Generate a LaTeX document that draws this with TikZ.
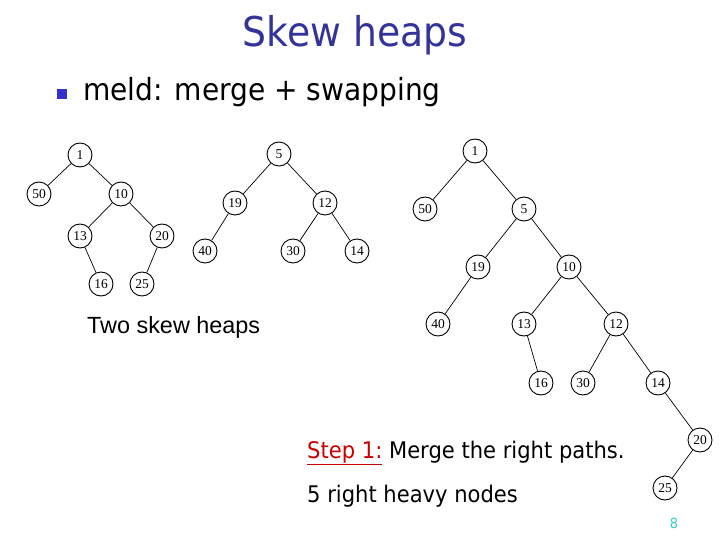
\documentclass[tikz,border=0pt]{standalone}
\usepackage{fontspec}
\setmainfont{Liberation Serif}
\newfontfamily\tah[FakeStretch=0.92]{DejaVu Sans}
\newfontfamily\ari{Liberation Sans}
\definecolor{titleblue}{RGB}{51,51,153}
\definecolor{bulletblue}{RGB}{51,51,204}
\definecolor{stepred}{RGB}{204,0,0}
\definecolor{pageteal}{RGB}{51,204,204}
\begin{document}
\begin{tikzpicture}[x=1pt,y=-1pt,
  hn/.style={circle,draw,line width=0.9pt,minimum size=24pt,inner sep=0pt,font=\fontsize{13.5}{13.5}\selectfont},
  ed/.style={line width=0.7pt},
  txt/.style={anchor=base west,inner sep=0pt}]
\useasboundingbox[fill=white] (0,0) rectangle (720,540);
% title and bullet
\node[anchor=base,inner sep=0pt,text=titleblue,font=\tah\fontsize{41}{41}\selectfont] (title) at (355,47) {Skew heaps};
\node[fill=bulletblue,minimum size=10pt,inner sep=0pt] (bul) at (62,94) {};
\node[txt,font=\tah\fontsize{30.5}{30.5}\selectfont] (sub) at (83,101) {meld: merge + swapping};
% heap A
\node[hn] (a1) at (80,155) {1};
\node[hn] (a50) at (39,194) {50};
\node[hn] (a10) at (121,194) {10};
\node[hn] (a13) at (80,236) {13};
\node[hn] (a20) at (162,236) {20};
\node[hn] (a16) at (101,284) {16};
\node[hn] (a25) at (142,284) {25};
\draw[ed] (a1)--(a50); \draw[ed] (a1)--(a10);
\draw[ed] (a10)--(a13); \draw[ed] (a10)--(a20);
\draw[ed] (a13)--(a16); \draw[ed] (a20)--(a25);
% heap B
\node[hn] (b5) at (279,154) {5};
\node[hn] (b19) at (235,203) {19};
\node[hn] (b12) at (325,203) {12};
\node[hn] (b40) at (205,251) {40};
\node[hn] (b30) at (293,251) {30};
\node[hn] (b14) at (357,251) {14};
\draw[ed] (b5)--(b19); \draw[ed] (b5)--(b12);
\draw[ed] (b19)--(b40); \draw[ed] (b12)--(b30); \draw[ed] (b12)--(b14);
% merged heap
\node[hn] (m1) at (475,151) {1};
\node[hn] (m50) at (425,209) {50};
\node[hn] (m5) at (524,209) {5};
\node[hn] (m19) at (478,267) {19};
\node[hn] (m10) at (569,267) {10};
\node[hn] (m40) at (438,324) {40};
\node[hn] (m13) at (524,324) {13};
\node[hn] (m12) at (616,324) {12};
\node[hn] (m16) at (541,383) {16};
\node[hn] (m30) at (583,383) {30};
\node[hn] (m14) at (658,383) {14};
\node[hn] (m20) at (700,440) {20};
\node[hn] (m25) at (665,488) {25};
\draw[ed] (m1)--(m50); \draw[ed] (m1)--(m5);
\draw[ed] (m5)--(m19); \draw[ed] (m5)--(m10);
\draw[ed] (m19)--(m40);
\draw[ed] (m10)--(m13); \draw[ed] (m10)--(m12);
\draw[ed] (m13)--(m16);
\draw[ed] (m12)--(m30); \draw[ed] (m12)--(m14);
\draw[ed] (m14)--(m20); \draw[ed] (m20)--(m25);
% texts
\node[txt,font=\ari\fontsize{23.4}{23.4}\selectfont] (two) at (87,333) {Two skew heaps};
\node[txt,font=\tah\fontsize{22.9}{22.9}\selectfont] (step) at (307,458) {\textcolor{stepred}{\underline{Step 1:}} Merge the right paths.};
\node[txt,font=\tah\fontsize{22.9}{22.9}\selectfont] (heavy) at (307,502) {5 right heavy nodes};
\node[anchor=base,inner sep=0pt,text=pageteal,font=\tah\fontsize{14}{14}\selectfont] (pg) at (674,528) {8};
\end{tikzpicture}
\end{document}
